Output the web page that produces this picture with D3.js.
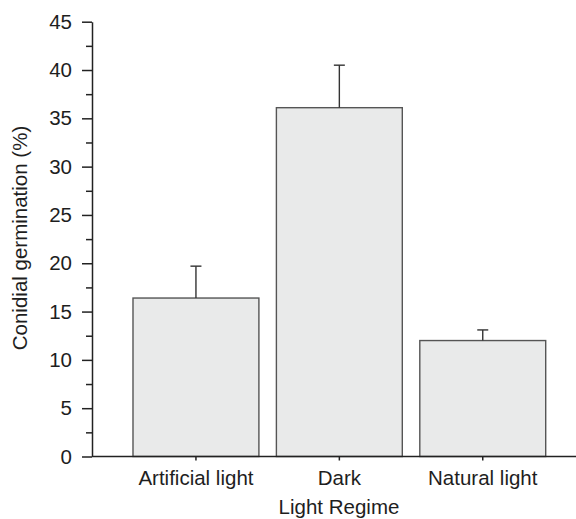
<!DOCTYPE html>
<html>
<head>
    <meta charset="utf-8" />
    <title>Conidial germination</title>
    <script src="https://d3js.org/d3.v7.min.js"></script>
    <style>
      body { margin: 0; background: #fff; }
      text { font-family: 'Liberation Sans', Arial, Helvetica, sans-serif; fill: #1e1e1e; }
    </style>
</head>
<body>
    <svg id="chart" width="576" height="519"></svg>

    <script>
        // Data
        var categories = ["Artificial light", "Dark", "Natural light"];
        var means = [16.4, 36.1, 12.0];
        var errors = [3.3, 4.4, 1.1];
        var majorTicks = [0, 5, 10, 15, 20, 25, 30, 35, 40, 45];
        var minorTicks = [2.5, 7.5, 12.5, 17.5, 22.5, 27.5, 32.5, 37.5, 42.5];

        var data = categories.map(function(c, i) {
            return { cat: c, mean: means[i], err: errors[i] };
        });

        var svg = d3.select("#chart");

        var y = d3.scaleLinear()
            .domain([0, 45])
            .range([456.5, 21.7]);

        var x = d3.scaleBand()
            .domain(categories)
            .range([115.5, 563.2])
            .paddingInner(0.122)
            .paddingOuter(0.122);

        //bars
        svg.selectAll("rect.bar")
            .data(data)
            .enter().append("rect")
            .attr("class", "bar")
            .attr("x", function(d) { return x(d.cat); })
            .attr("y", function(d) { return y(d.mean); })
            .attr("width", x.bandwidth())
            .attr("height", function(d) { return y(0) - y(d.mean); })
            .attr("fill", "#e9eaea")
            .attr("stroke", "#555")
            .attr("stroke-width", 1.4);

        //error bars
        var eb = svg.selectAll("g.err")
            .data(data)
            .enter().append("g")
            .attr("class", "err")
            .attr("stroke", "#333")
            .attr("stroke-width", 1.4);

        eb.append("line")
            .attr("x1", function(d) { return x(d.cat) + x.bandwidth() / 2; })
            .attr("x2", function(d) { return x(d.cat) + x.bandwidth() / 2; })
            .attr("y1", function(d) { return y(d.mean); })
            .attr("y2", function(d) { return y(d.mean + d.err); });

        eb.append("line")
            .attr("x1", function(d) { return x(d.cat) + x.bandwidth() / 2 - 5.5; })
            .attr("x2", function(d) { return x(d.cat) + x.bandwidth() / 2 + 5.5; })
            .attr("y1", function(d) { return y(d.mean + d.err); })
            .attr("y2", function(d) { return y(d.mean + d.err); });

        //y axis
        var yAxis = svg.append("g")
            .attr("transform", "translate(92,0)")
            .call(d3.axisLeft(y).tickValues(majorTicks).tickSize(10).tickSizeOuter(0).tickPadding(10));

        svg.append("g")
            .attr("transform", "translate(92,0)")
            .call(d3.axisLeft(y).tickValues(minorTicks).tickSize(6).tickSizeOuter(0).tickFormat(""))
            .select(".domain").remove();

        yAxis.selectAll("text")
            .style("font-size", "20.5px")
            .attr("fill", "#1e1e1e");

        //x axis
        var xAxis = svg.append("g")
            .attr("transform", "translate(0,456.5)")
            .call(d3.axisBottom(x).tickSize(4).tickSizeOuter(0).tickPadding(10));
        xAxis.select(".domain").remove();
        xAxis.append("line")
            .attr("x1", 92)
            .attr("x2", 576)
            .attr("stroke", "#222")
            .attr("stroke-width", 1.5);
        xAxis.selectAll("text")
            .style("font-size", "20.5px")
            .attr("fill", "#1e1e1e");

        svg.selectAll(".domain, .tick line")
            .attr("stroke", "#222")
            .attr("stroke-width", 1.5);

        //axis titles
        svg.append("text")
            .attr("x", 339)
            .attr("y", 514)
            .attr("text-anchor", "middle")
            .style("font-size", "20.5px")
            .text("Light Regime");

        svg.append("text")
            .attr("transform", "translate(27,238) rotate(-90)")
            .attr("text-anchor", "middle")
            .style("font-size", "20.5px")
            .text("Conidial germination (%)");
    </script>
</body>
</html>
